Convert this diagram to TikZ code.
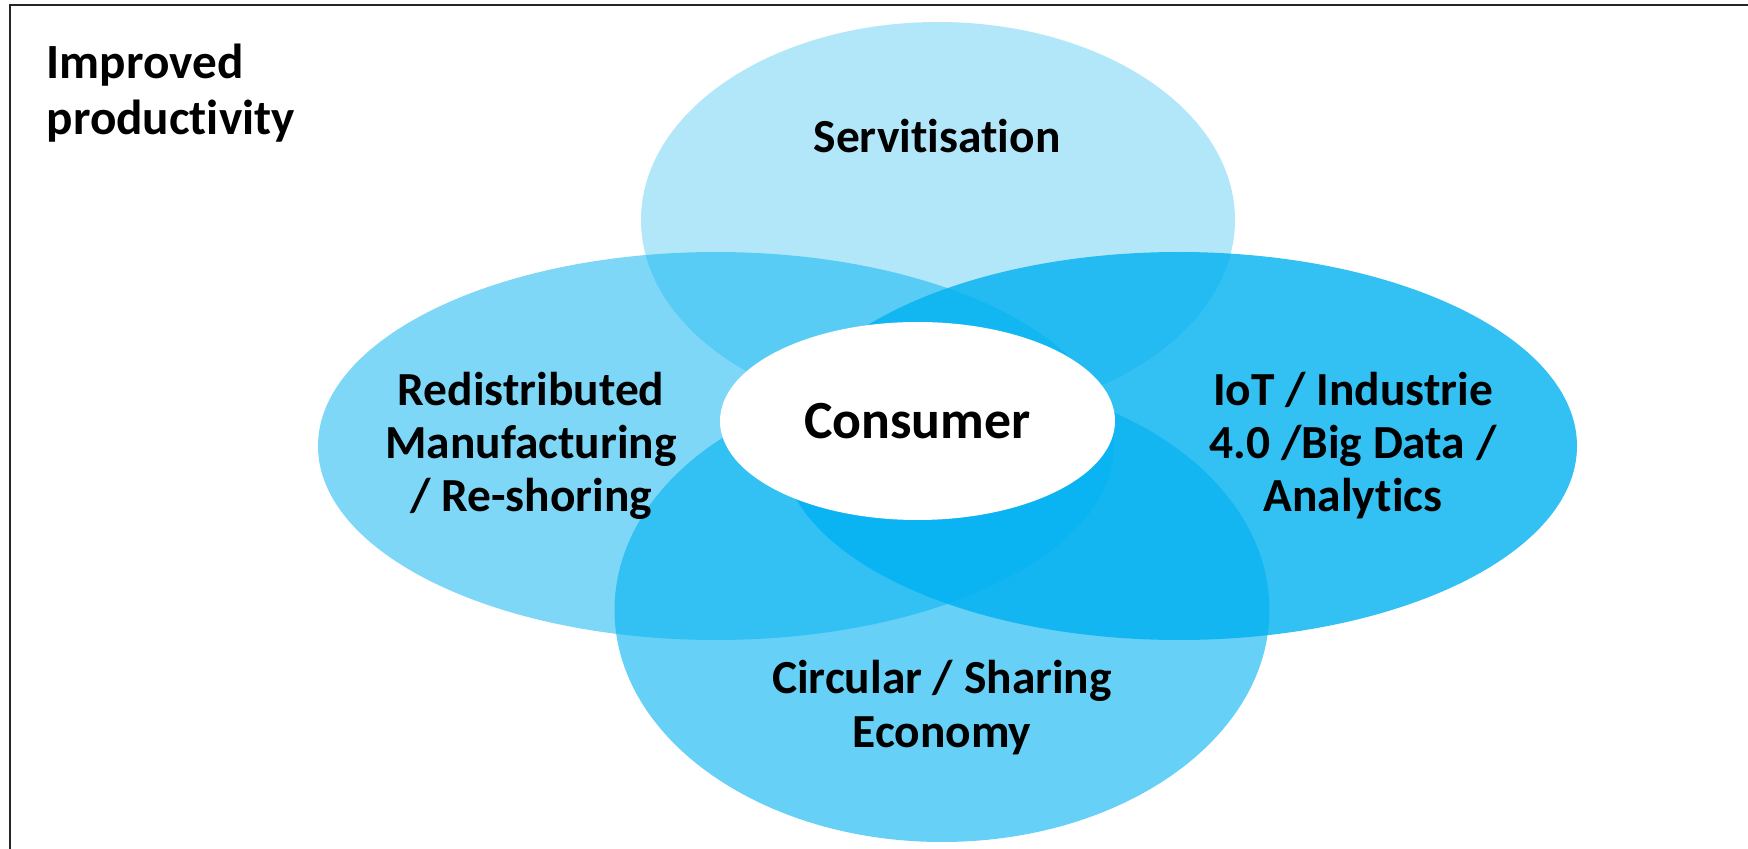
\documentclass[tikz,border=0pt]{standalone}
\usepackage{fontspec}
\setmainfont{Carlito}[RawFeature={-liga}]
\usetikzlibrary{shapes.geometric}

\definecolor{skyblue}{RGB}{0,176,240}

\tikzset{
  petal/.style={fill=skyblue, draw=none},
  label/.style={font=\bfseries\fontsize{13.5}{15.1}\selectfont, align=center, inner sep=0pt, anchor=base},
  hub/.style={ellipse, fill=white, draw=none, inner sep=0pt,
    minimum width=3.95cm, minimum height=1.98cm,
    font=\bfseries\fontsize{15.3}{17}\selectfont}
}

\begin{document}
\begin{tikzpicture}
      % page size and frame
      \useasboundingbox (0,0) rectangle (17.48,-8.49);
      \draw[line width=0.6pt, black!85] (0.10,-8.49) -- (0.10,-0.05) -- (17.48,-0.05);

      % the four overlapping fields, one colour at different strengths
      \fill[petal, fill opacity=0.3] (9.38,-2.20) ellipse [x radius=2.97cm, y radius=1.98cm];
      \fill[petal, fill opacity=0.5] (7.16,-4.46) ellipse [x radius=3.98cm, y radius=1.94cm];
      \fill[petal, fill opacity=0.8] (11.79,-4.46) ellipse [x radius=3.98cm, y radius=1.94cm];
      \fill[petal, fill opacity=0.6] (9.42,-6.10) ellipse [x radius=3.275cm, y radius=2.32cm];

      % labels of the fields (base = last line)
      \node[label, anchor=base west, align=left, font=\bfseries\fontsize{14}{16.2}\selectfont]
        (prod) at (0.46,-1.35) {Improved\\productivity};
      \node[label] (serv) at (9.37,-1.53) {Servitisation};
      \node[label] (redist) at (5.31,-5.12) {Redistributed\\Manufacturing\\/ Re-shoring};
      \node[label] (iot) at (13.53,-5.12) {IoT / Industrie\\4.0 /Big Data /\\Analytics};
      \node[label] (circ) at (9.42,-7.47) {Circular / Sharing\\Economy};

      % centre
      \node[hub] (consumer) at (9.175,-4.21) {Consumer};
\end{tikzpicture}
\end{document}
